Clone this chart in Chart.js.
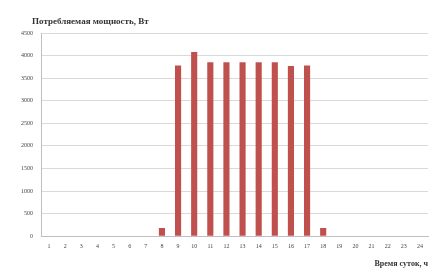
<!DOCTYPE html>
<html>
<head>
<meta charset="utf-8">
<script src="https://cdn.jsdelivr.net/npm/chart.js@4"></script>
<style>
  html, body { margin: 0; padding: 0; background: #fff; }
  #wrap { width: 430px; height: 270px; }
</style>
</head>
<body>
<div id="wrap"><canvas id="powerChart"></canvas></div>
<script>
// --- данные ---
const hours = ['1','2','3','4','5','6','7','8','9','10','11','12','13','14','15','16','17','18','19','20','21','22','23','24'];
const power = [0, 0, 0, 0, 0, 0, 0, 180, 3780, 4080, 3850, 3850, 3850, 3850, 3850, 3770, 3780, 180, 0, 0, 0, 0, 0, 0];
const yTicks = [0, 500, 1000, 1500, 2000, 2500, 3000, 3500, 4000, 4500];

const titleY = 'Потребляемая мощность, Вт';
const titleX = 'Время суток, ч';

// заголовок оси Y сверху слева
const topTitle = {
    id: 'topTitle',
    afterDraw(chart) {
        const ctx = chart.ctx;
        ctx.save();
        ctx.font = 'bold 9px "Liberation Serif", serif';
        ctx.fillStyle = '#333';
        ctx.textBaseline = 'middle';
        ctx.fillText(titleY, chart.chartArea.left - 9, 22);
        ctx.restore();
    }
};

const ctx = document.getElementById('powerChart').getContext('2d');
new Chart(ctx, {
    type: 'bar',
    data: {
        labels: hours,
        datasets: [{
            data: power,
            backgroundColor: '#c0504d',
            borderWidth: 0,
            barPercentage: 0.38,
            categoryPercentage: 1
        }]
    },
    options: {
        responsive: true,
        maintainAspectRatio: false,
        animation: false,
        layout: { padding: { top: 33, right: 2, left: 0, bottom: 0 } },
        plugins: { legend: { display: false }, tooltip: { enabled: false } },
        scales: {
            y: {
                min: 0,
                max: 4500,
                afterBuildTicks: s => { s.ticks = yTicks.map(v => ({ value: v })); },
                afterFit: s => { s.width = 41; },
                grid: { color: '#d9d9d9', drawTicks: false },
                border: { color: '#bfbfbf' },
                ticks: {
                    padding: 8,
                    color: '#444',
                    callback: v => String(v),
                    font: { size: 6, family: '"Liberation Serif", serif' }
                }
            },
            x: {
                grid: { display: false, drawTicks: false },
                border: { color: '#bfbfbf' },
                ticks: {
                    padding: 7,
                    color: '#444',
                    maxRotation: 0,
                    autoSkip: false,
                    font: { size: 6, family: '"Liberation Serif", serif' }
                },
                title: {
                    display: true,
                    text: titleX,
                    align: 'end',
                    color: '#333',
                    padding: { top: 2, bottom: 1 },
                    font: { size: 8, weight: 'bold', family: '"Liberation Serif", serif' }
                }
            }
        }
    },
    plugins: [topTitle]
});
</script>
</body>
</html>
